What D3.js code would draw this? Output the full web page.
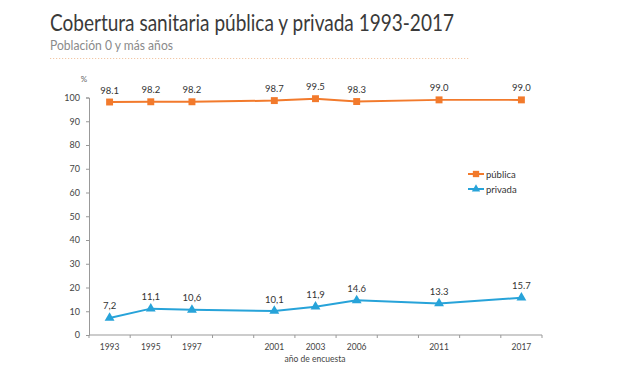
<!DOCTYPE html>
<html><head><meta charset="utf-8">
<script src="https://cdn.jsdelivr.net/npm/d3@7"></script>
<style>body{margin:0;background:#fff}svg{display:block}</style>
</head><body><svg id="c" width="620" height="368"></svg>
<script>
const categories = ["1993","1995","1997","1999","2001","2003","2006","2009","2011","2014","2017"];
const tickLabels = ["1993","1995","1997","","2001","2003","2006","","2011","","2017"];
const publica = [98.1,98.2,98.2,null,98.7,99.5,98.3,null,99.0,null,99.0];
const privada = [7.2,11.1,10.6,null,10.1,11.9,14.6,null,13.3,null,15.7];
const publicaLabels = ["98.1","98.2","98.2","","98.7","99.5","98.3","","99.0","","99.0"];
const privadaLabels = ["7,2","11,1","10,6","","10,1","11,9","14.6","","13.3","","15.7"];
const yTicks = [0,10,20,30,40,50,60,70,80,90,100];

const FONT = "Lato, 'Open Sans', sans-serif";
const orange = "#f27a2c", blue = "#27a3d9";
const svg = d3.select("#c").style("font-family", FONT);

svg.append("text").attr("x",50).attr("y",31).attr("font-size",23).attr("fill","#3a3a3a")
  .attr("textLength",404).attr("lengthAdjust","spacingAndGlyphs").text("Cobertura sanitaria pública y privada 1993-2017");
svg.append("text").attr("x",50).attr("y",50).attr("font-size",13.5).attr("fill","#8a8a8a")
  .attr("textLength",123).attr("lengthAdjust","spacingAndGlyphs").text("Población 0 y más años");
svg.append("line").attr("x1",50).attr("x2",470).attr("y1",58.5).attr("y2",58.5).attr("stroke","#f2c7a5").attr("stroke-width",1.2).attr("stroke-dasharray","1.2,1.8");

const x = d3.scaleBand().domain(categories).range([89,542]);
const y = d3.scaleLinear().domain([0,100]).range([335,97.5]);

// y axis
const ya = svg.append("g").attr("transform","translate(89,0)").call(d3.axisLeft(y).tickValues(yTicks).tickSize(3).tickPadding(6));
ya.select(".domain").attr("stroke","#999");
ya.selectAll(".tick line").attr("stroke","#999");
ya.selectAll("text").attr("font-size",9).attr("fill","#444").attr("font-family",FONT);
svg.append("text").attr("x",84).attr("y",82).attr("text-anchor","middle").attr("font-size",8).attr("fill","#666").text("%");

// x axis
const xa = svg.append("g").attr("transform","translate(0,335)");
xa.append("line").attr("x1",89).attr("x2",542).attr("stroke","#999");
xa.selectAll("line.tk").data(d3.range(categories.length+1)).join("line").attr("class","tk")
  .attr("x1",i=>89+i*x.step()).attr("x2",i=>89+i*x.step()).attr("y1",0).attr("y2",3).attr("stroke","#999");
xa.selectAll("text").data(categories).join("text")
  .attr("x",d=>x(d)+x.bandwidth()/2).attr("y",15).attr("text-anchor","middle")
  .attr("font-size",8.5).attr("fill","#444").text((d,i)=>tickLabels[i]);
svg.append("text").attr("x",315).attr("y",362).attr("text-anchor","middle").attr("font-size",8.5).attr("fill","#444").text("año de encuesta");

const cx = (d,i)=>x(categories[i])+x.bandwidth()/2;
function series(vals, labels, color, shape){
  const pts = vals.map((v,i)=>({v,i,l:labels[i]})).filter(d=>d.v!==null);
  svg.append("path").datum(pts).attr("fill","none").attr("stroke",color).attr("stroke-width",2)
    .attr("d",d3.line().x(d=>cx(null,d.i)).y(d=>y(d.v)));
  svg.selectAll(null).data(pts).join("path")
    .attr("transform",d=>`translate(${cx(null,d.i)},${y(d.v)})`)
    .attr("d",d3.symbol().type(shape).size(shape===d3.symbolSquare?48:42)).attr("fill",color);
  svg.selectAll(null).data(pts).join("text")
    .attr("x",d=>cx(null,d.i)).attr("y",d=>y(d.v)-8.5).attr("text-anchor","middle")
    .attr("font-size",9.5).attr("fill","#333").text(d=>d.l);
}
series(publica, publicaLabels, orange, d3.symbolSquare);
series(privada, privadaLabels, blue, d3.symbolTriangle);

// legend
const leg = [["pública",orange,d3.symbolSquare],["privada",blue,d3.symbolTriangle]];
leg.forEach((d,i)=>{
  const yy = 174 + i*15;
  svg.append("line").attr("x1",468).attr("x2",484).attr("y1",yy).attr("y2",yy).attr("stroke",d[1]).attr("stroke-width",2);
  svg.append("path").attr("transform",`translate(476,${yy})`).attr("d",d3.symbol().type(d[2]).size(d[2]===d3.symbolSquare?40:30)).attr("fill",d[1]);
  svg.append("text").attr("x",486).attr("y",yy+3.5).attr("font-size",9.5).attr("fill","#333").text(d[0]);
});
</script></body></html>
